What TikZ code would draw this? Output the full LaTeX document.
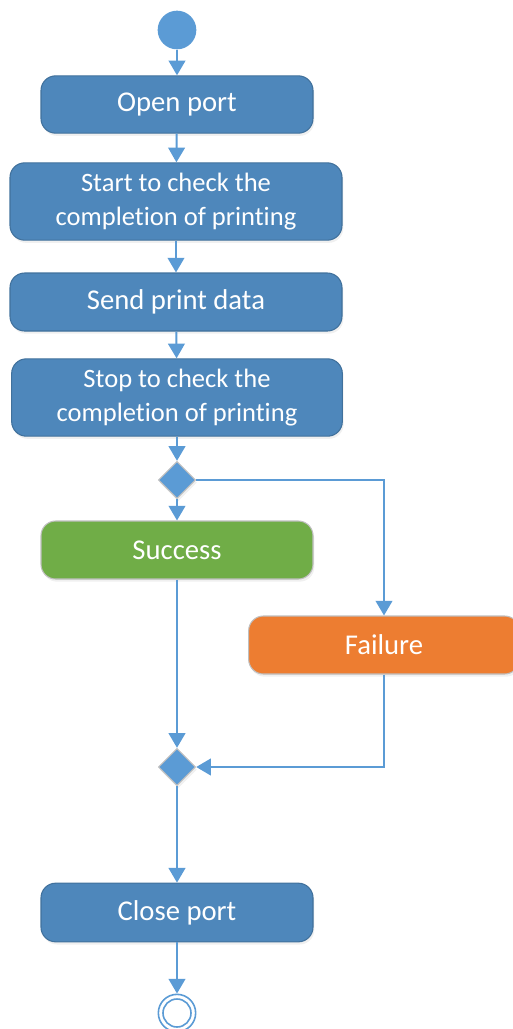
\documentclass[tikz,border=0pt]{standalone}
\usepackage{fontspec}
\setmainfont[Ligatures=NoCommon]{Carlito}
\usepackage{tikz}
\usetikzlibrary{shapes.geometric,arrows.meta,shadows}

\definecolor{BoxBlue}{HTML}{4E87BB}
\definecolor{BoxEdge}{HTML}{41719C}
\definecolor{LineBlue}{HTML}{5B9BD5}
\definecolor{OkGreen}{HTML}{70AD47}
\definecolor{BadOrange}{HTML}{ED7D31}
\definecolor{SoftGray}{HTML}{BFBFBF}

\tikzset{
	act/.style={rectangle, rounded corners=11pt, draw=BoxEdge, line width=0.8pt, fill=BoxBlue,
		text=white, align=center, inner sep=0pt, font=\fontsize{21.5}{25}\selectfont,
		drop shadow={opacity=0.12, shadow xshift=1pt, shadow yshift=-2pt}},
	twoline/.style={font=\fontsize{19.9}{25}\selectfont},
	decide/.style={diamond, aspect=1, draw=SoftGray, line width=0.8pt, fill=LineBlue,
		minimum width=28pt, minimum height=28pt, inner sep=0pt,
		drop shadow={opacity=0.12, shadow xshift=1pt, shadow yshift=-2pt}},
	flow/.style={LineBlue, line width=1.5pt, -{Triangle[width=12.5pt,length=11pt]}}
}

\begin{document}
\begin{tikzpicture}[x=0.75pt, y=-0.75pt]
	\useasboundingbox (0,0) rectangle (513,1029);

	\node[circle, fill=LineBlue, minimum size=29pt, inner sep=0pt] (start) at (177,30) {};
	\node[act, minimum width=204pt, minimum height=43pt] (open) at (177,104.5) {Open port};
	\node[act, twoline, minimum width=249pt, minimum height=58pt] (startchk) at (176,201.5) {Start to check the\\completion of printing};
	\node[act, minimum width=249pt, minimum height=43.5pt] (send) at (176,302) {Send print data};
	\node[act, twoline, minimum width=248pt, minimum height=58pt] (stopchk) at (177,397.5) {Stop to check the\\completion of printing};

	\node[decide] (choice) at (177,480) {};
	\node[act, fill=OkGreen, draw=SoftGray, minimum width=204pt, minimum height=43.5pt] (success) at (177,550) {Success};
	\node[act, fill=BadOrange, draw=SoftGray, minimum width=203pt, minimum height=43.5pt] (failure) at (384,645) {Failure};
	\node[decide] (merge) at (177,767) {};

	\node[act, minimum width=204pt, minimum height=44pt] (close) at (177,912.5) {Close port};
	\node[circle, draw=LineBlue, line width=1.2pt, fill=white, minimum size=28pt, inner sep=0pt] (stop) at (177,1013) {};
	\draw[LineBlue, line width=1.2pt] (stop) circle[radius=10.5pt];

	\draw[flow] (start) -- (open);
	\draw[flow] (open) -- (startchk);
	\draw[flow] (startchk) -- (send);
	\draw[flow] (send) -- (stopchk);
	\draw[flow] (stopchk) -- (choice);
	\draw[flow] (choice) -- (success);
	\draw[flow] (choice.east) -| (failure);
	\draw[flow] (success) -- (merge);
	\draw[flow] (failure) |- (merge.east);
	\draw[flow] (merge) -- (close);
	\draw[flow] (close) -- (stop);
\end{tikzpicture}
\end{document}
